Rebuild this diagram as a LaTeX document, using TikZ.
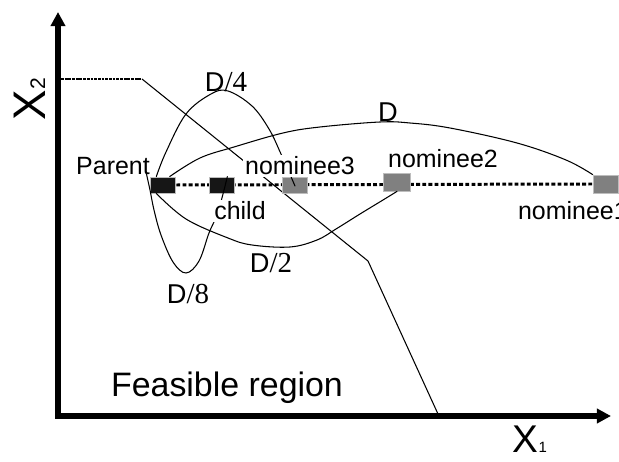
\documentclass[tikz,border=0pt]{standalone}
\usepackage{fontspec}
\setmainfont{Liberation Sans}
\newfontfamily\serifdig{Liberation Serif}
\usetikzlibrary{arrows.meta,calc,backgrounds}
\definecolor{sqblack}{HTML}{161616}
\definecolor{sqgray}{HTML}{808080}
\definecolor{sqedge}{HTML}{BDBDBD}
\begin{document}
\begin{tikzpicture}[x=0.02cm,y=-0.02cm,
  sq/.style={draw=sqedge, line width=0.5pt, minimum width=14.7pt, minimum height=9.1pt, inner sep=0pt},
  lbl/.style={font=\fontsize{14.2}{16}\selectfont, inner sep=1pt},
  wlbl/.style={lbl, fill=white},
  dlbl/.style={font=\fontsize{15.5}{18}\selectfont, inner sep=0pt},
  curve/.style={line width=0.6pt, line join=round, line cap=round},
  axis/.style={line width=2.9pt, line join=miter, {Triangle[length=8pt,width=8pt]}-{Triangle[length=8pt,width=8pt]}}
]
\useasboundingbox (0,0) rectangle (619,462);

% axes
\coordinate (ytop) at (58,12);
\coordinate (orig) at (58,416);
\coordinate (xend) at (611,416);
\draw[axis] (ytop) -- (orig) -- (xend);

% feasible region boundary
\coordinate (b0) at (61,79);
\coordinate (b1) at (142,79);
\coordinate (b2) at (368,261);
\coordinate (b3) at (438,414);
\draw[line width=0.6pt, dash pattern=on 1.6pt off 0.5pt] (b0) -- (b1);
\draw[line width=0.6pt] (b1) -- (b2) -- (b3);

% squares
\node[sq, fill=sqblack] (P) at (163,185) {};
\node[sq, fill=sqblack] (C) at (222,185) {};
\node[sq, fill=sqgray] (N3) at (295,185) {};
\node[sq, fill=sqgray, minimum width=15.3pt, minimum height=10.2pt] (N2) at (397,182) {};
\node[sq, fill=sqgray, minimum height=10.2pt] (N1) at (606,184) {};

\begin{scope}[on background layer]
\fill[white] (0,0) rectangle (619,462);
\draw[line width=1.7pt, dash pattern=on 2.2pt off 1.3pt] (P.east) -- (N1.west);
\end{scope}

% curves
\draw[curve] plot[smooth, tension=0.6] coordinates {($(P.north)!0.5!(P.north west)$) (166,152) (186,114) (211,94) (228,91) (252,106) (269,129) (281,154) (295,186)};
\draw[curve] plot[smooth, tension=0.6] coordinates {($(P.north)!0.5!(P.north east)$) (200,158) (234,147) (283,133) (320,127) (380,122) (410,123) (450,128) (517,143) (566,160) (N1.north west)};
\draw[curve] plot[smooth, tension=0.6] coordinates {($(P.south)!0.5!(P.south west)$) (186,219) (228,238) (252,245) (290,247) (317,240) (336,229) (360,214) (383,200) (N2.south)};
\draw[curve] plot[smooth, tension=0.6] coordinates {(146,172) (150,190) (154,210) (161,235) (173,262) (186,273) (199,261) (209,233) (217,215) (223,194) ($(C.north)!0.4!(C.north east)$)};

% labels
\node[lbl] (lP) at (113,166) {Parent};
\node[wlbl] (lC) at (240,211) {child};
\node[wlbl] (lN3) at (300,166) {nominee3};
\node[lbl] (lN2) at (443,159) {nominee2};
\node[lbl, anchor=west] (lN1) at (516,211) {nominee1};

\node[dlbl] (d4) at (226,82) {D{\serifdig\fontsize{16.5}{18}\selectfont/4}};
\node[dlbl] (d1) at (388,112) {D};
\node[dlbl] (d2) at (271,263) {D{\serifdig\fontsize{16.5}{18}\selectfont/2}};
\node[dlbl] (d8) at (188,294) {D{\serifdig\fontsize{16.5}{18}\selectfont/8}};

\node[font=\fontsize{19.3}{22}\selectfont] (fr) at (227,388) {Feasible region};

\node[rotate=90, anchor=base, inner sep=0pt] (x2) at (45,99) {{\fontsize{26}{26}\selectfont X}{\fontsize{12}{12}\selectfont 2}};
\node[anchor=base, inner sep=0pt] (x1) at (530,453) {{\fontsize{22}{22}\selectfont X}{\fontsize{8.5}{9}\selectfont 1}};
\end{tikzpicture}
\end{document}
